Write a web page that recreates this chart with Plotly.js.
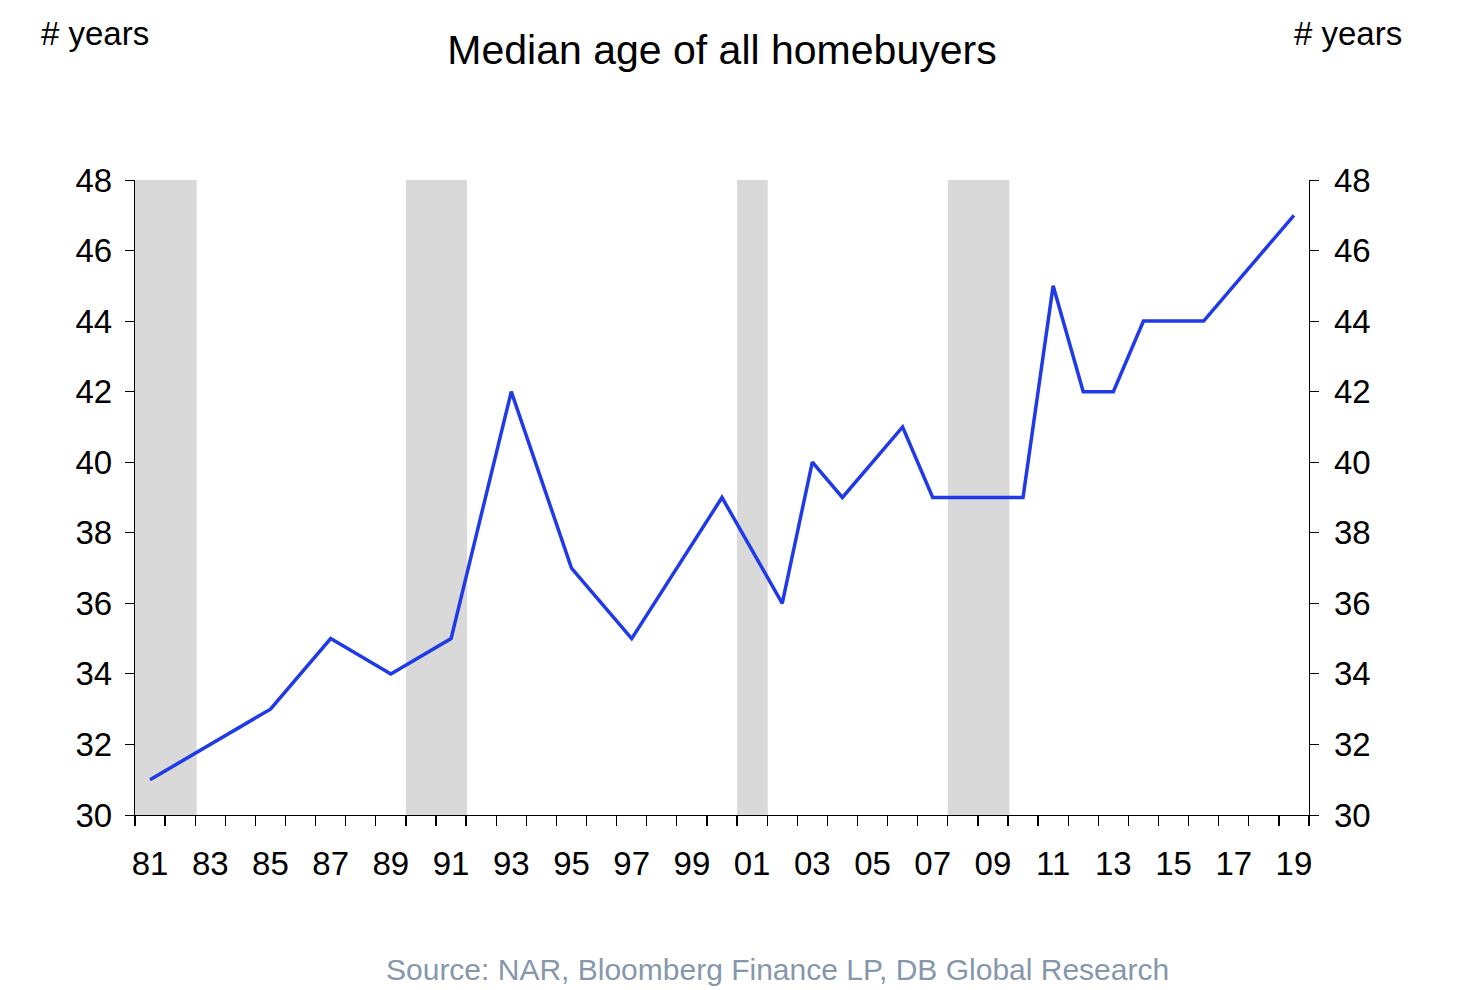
<!DOCTYPE html>
<html>
<head>
<meta charset="utf-8">
<script src="https://cdn.plot.ly/plotly-3.0.1.min.js"></script>
<style>
  html, body { margin: 0; padding: 0; background: #fff; }
  #chart { width: 1468px; height: 990px; }
</style>
</head>
<body>
<div id="chart"></div>
<script>
// median age of all homebuyers (survey years only)
const years = [1981, 1985, 1987, 1989, 1991, 1993, 1995, 1997, 2000, 2002, 2003, 2004, 2006, 2007, 2010, 2011, 2012, 2013, 2014, 2016, 2019];
const medianAge = [31, 33, 35, 34, 35, 42, 37, 35, 39, 36, 40, 39, 41, 39, 39, 45, 42, 42, 44, 44, 47];

// x axis labels
const tickYears = [1981, 1983, 1985, 1987, 1989, 1991, 1993, 1995, 1997, 1999, 2001, 2003, 2005, 2007, 2009, 2011, 2013, 2015, 2017, 2019];
const tickLabels = ['81', '83', '85', '87', '89', '91', '93', '95', '97', '99', '01', '03', '05', '07', '09', '11', '13', '15', '17', '19'];

// recession bands (start, end)
const recessionStart = [1980.5, 1989.5, 2000.5, 2007.5];
const recessionEnd = [1982.55, 1991.53, 2001.52, 2009.55];

const font = 'Liberation Sans, Arial, sans-serif';

const trace = {
  x: years,
  y: medianAge,
  type: 'scatter',
  mode: 'lines',
  line: {color: '#1f3ae6', width: 3.5},
  hoverinfo: 'x+y'
};

// dummy trace so the right axis is drawn
const traceRight = {
  x: [years[0]],
  y: [medianAge[0]],
  yaxis: 'y2',
  type: 'scatter',
  mode: 'lines',
  line: {width: 0},
  hoverinfo: 'skip',
  showlegend: false
};

const shapes = recessionStart.map((s, i) => ({
  type: 'rect',
  xref: 'x', yref: 'paper',
  x0: s, x1: recessionEnd[i],
  y0: 0, y1: 1,
  fillcolor: '#d9d9d9',
  line: {width: 0},
  layer: 'below'
}));

const yAxisBase = {
  range: [30, 48],
  dtick: 2,
  tick0: 30,
  showgrid: false,
  zeroline: false,
  showline: true,
  linecolor: '#000',
  linewidth: 1.3,
  ticks: 'outside',
  ticklen: 9,
  tickcolor: '#000',
  tickfont: {family: font, size: 33, color: '#000'},
  fixedrange: true
};

const layout = {
  width: 1468,
  height: 990,
  margin: {l: 135, r: 159, t: 180, b: 175},
  paper_bgcolor: '#fff',
  plot_bgcolor: '#fff',
  showlegend: false,
  font: {family: font, color: '#000'},
  title: {
    text: 'Median age of all homebuyers',
    font: {family: font, size: 41, color: '#000'},
    xref: 'paper', x: 0.5, xanchor: 'center',
    yref: 'container', y: 0.95, yanchor: 'middle'
  },
  xaxis: {
    range: [1980.5, 2019.5],
    tickmode: 'array',
    tickvals: tickYears,
    ticktext: tickLabels,
    ticks: '',
    ticklabelstandoff: 19,
    minor: {tick0: 1980.5, dtick: 1, ticks: 'outside', ticklen: 10, tickcolor: '#000', tickwidth: 1.3, showgrid: false},
    showgrid: false,
    zeroline: false,
    showline: true,
    linecolor: '#000',
    linewidth: 1.3,
    tickfont: {family: font, size: 33, color: '#000'},
    fixedrange: true
  },
  yaxis: Object.assign({}, yAxisBase, {side: 'left', ticklabelstandoff: 6}),
  yaxis2: Object.assign({}, yAxisBase, {side: 'right', overlaying: 'y', ticklabelstandoff: 8}),
  shapes: shapes,
  annotations: [
    {
      text: '# years', showarrow: false,
      xref: 'paper', yref: 'paper',
      x: -0.082, xanchor: 'left', y: 1.23, yanchor: 'middle',
      font: {family: font, size: 33, color: '#000'}
    },
    {
      text: '# years', showarrow: false,
      xref: 'paper', yref: 'paper',
      x: 1.081, xanchor: 'right', y: 1.23, yanchor: 'middle',
      font: {family: font, size: 33, color: '#000'}
    },
    {
      text: 'Source: NAR, Bloomberg Finance LP, DB Global Research', showarrow: false,
      xref: 'paper', yref: 'paper',
      x: 0.5477, xanchor: 'center', y: -0.244, yanchor: 'middle',
      font: {family: font, size: 30, color: '#8797ab'}
    }
  ]
};

Plotly.newPlot('chart', [trace, traceRight], layout, {displayModeBar: false, staticPlot: true});
</script>
</body>
</html>
